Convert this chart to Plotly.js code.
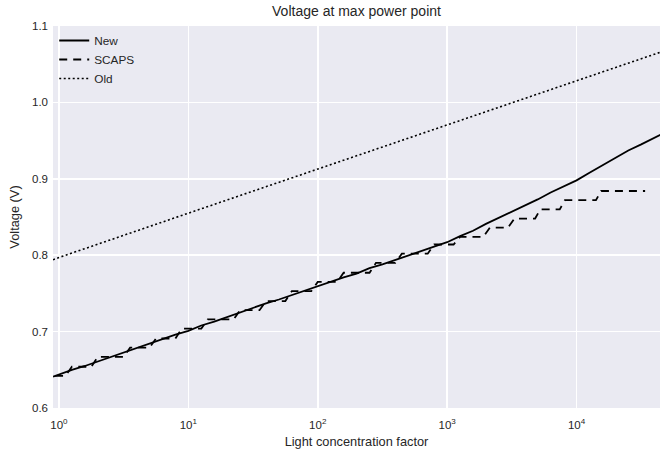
<!DOCTYPE html>
<html>
<head>
<meta charset="utf-8">
<script src="https://cdn.plot.ly/plotly-3.0.1.min.js"></script>
<style>
  html, body { margin: 0; padding: 0; background: #ffffff; }
  #chart { width: 660px; height: 457px; }
</style>
</head>
<body>
<div id="chart"></div>
<script>
// Light concentration factor (suns) for the "New" model
const concNew = [0.9, 1, 1.259, 1.585, 1.995, 2.512, 3.162, 3.981, 5.012, 6.310, 7.943,
  10, 12.59, 15.85, 19.95, 25.12, 31.62, 39.81, 50.12, 63.10, 79.43,
  100, 125.9, 158.5, 199.5, 251.2, 316.2, 398.1, 501.2, 631.0, 794.3,
  1000, 1259, 1585, 1995, 2512, 3162, 3981, 5012, 6310, 7943,
  10000, 12589, 15849, 19953, 25119, 31623, 39811, 45000];
// Voltage at max power point (V), "New" model
const vmpNew = [0.641, 0.644, 0.650, 0.655, 0.661, 0.667, 0.673, 0.679, 0.684, 0.690, 0.696,
  0.701, 0.708, 0.713, 0.719, 0.725, 0.730, 0.737, 0.742, 0.748, 0.754,
  0.759, 0.766, 0.771, 0.776, 0.783, 0.788, 0.794, 0.800, 0.805, 0.812,
  0.817, 0.825, 0.832, 0.841, 0.849, 0.856, 0.864, 0.873, 0.882, 0.890,
  0.898, 0.908, 0.918, 0.928, 0.937, 0.945, 0.953, 0.958];

// SCAPS simulation: concentration and stepped Vmp
const concScaps = [0.933, 1.122, 1.259, 1.778, 1.995, 3.162, 3.548, 5.012, 5.623, 7.943,
  8.913, 12.59, 14.13, 22.39, 25.12, 35.48, 39.81, 56.23, 63.10, 89.13,
  100, 141.3, 158.5, 251.2, 281.8, 398.1, 446.7, 707.9, 794.3, 1122,
  1259, 1905, 2138, 2951, 3311, 4786, 5248, 7413, 8128, 14125,
  15488, 33884];
const vmpScaps = [0.642, 0.642, 0.654, 0.654, 0.667, 0.667, 0.679, 0.679, 0.691, 0.691,
  0.704, 0.704, 0.716, 0.716, 0.728, 0.728, 0.740, 0.740, 0.753, 0.753,
  0.765, 0.765, 0.777, 0.777, 0.790, 0.790, 0.802, 0.802, 0.814, 0.814,
  0.824, 0.824, 0.836, 0.836, 0.848, 0.848, 0.860, 0.860, 0.872, 0.872,
  0.884, 0.884];

// "Old" model
const concOld = [0.9, 1, 10, 100, 1000, 10000, 45000];
const vmpOld = [0.794, 0.797, 0.855, 0.913, 0.971, 1.029, 1.066];

// Axis ticks
const xTickVals = [1, 10, 100, 1000, 10000];
const xTickText = ['10<sup>0</sup>', '10<sup>1</sup>', '10<sup>2</sup>', '10<sup>3</sup>', '10<sup>4</sup>'];
const yTickVals = [0.6, 0.7, 0.8, 0.9, 1.0, 1.1];
const yTickText = ['0.6', '0.7', '0.8', '0.9', '1.0', '1.1'];

const textColor = '#262626';
const fontFamily = 'Liberation Sans, Arial, sans-serif';

const traces = [
  { x: concNew, y: vmpNew, name: 'New', mode: 'lines',
    line: { color: '#000000', width: 1.8 } },
  { x: concScaps, y: vmpScaps, name: 'SCAPS', mode: 'lines',
    line: { color: '#000000', width: 1.8, dash: '8px,6px' } },
  { x: concOld, y: vmpOld, name: 'Old', mode: 'lines',
    line: { color: '#000000', width: 1.6, dash: '2px,2.5px' } }
];

const layout = {
  width: 660, height: 457,
  margin: { l: 52.5, r: 0, t: 25.5, b: 49 },
  paper_bgcolor: '#ffffff',
  plot_bgcolor: '#EAEAF2',
  font: { family: fontFamily, size: 11.5, color: textColor },
  title: { text: 'Voltage at max power point', font: { size: 14, color: textColor },
           xref: 'paper', x: 0.5, xanchor: 'center', yref: 'container', y: 0.986, yanchor: 'top' },
  xaxis: {
    type: 'log', range: [-0.046, 4.645],
    tickvals: xTickVals, ticktext: xTickText,
    showgrid: true, gridcolor: '#ffffff', gridwidth: 1.5,
    zeroline: false, showline: false, ticks: '',
    ticklabelstandoff: 8,
    tickfont: { size: 11.5, color: textColor },
    title: { text: 'Light concentration factor', font: { size: 12.8, color: textColor }, standoff: 7 }
  },
  yaxis: {
    range: [0.6, 1.1],
    tickvals: yTickVals, ticktext: yTickText,
    showgrid: true, gridcolor: '#ffffff', gridwidth: 1.5,
    zeroline: false, showline: false, ticks: '',
    ticklabelstandoff: 4,
    tickfont: { size: 11.5, color: textColor },
    title: { text: 'Voltage (V)', font: { size: 12.8, color: textColor }, standoff: 9 }
  },
  legend: {
    x: 0.002, y: 1.0, xanchor: 'left', yanchor: 'top',
    bgcolor: 'rgba(0,0,0,0)', borderwidth: 0,
    font: { size: 11.8, color: textColor },
    itemwidth: 30, tracegroupgap: 0
  },
  showlegend: true
};

Plotly.newPlot('chart', traces, layout, { displayModeBar: false, staticPlot: true });
</script>
</body>
</html>
